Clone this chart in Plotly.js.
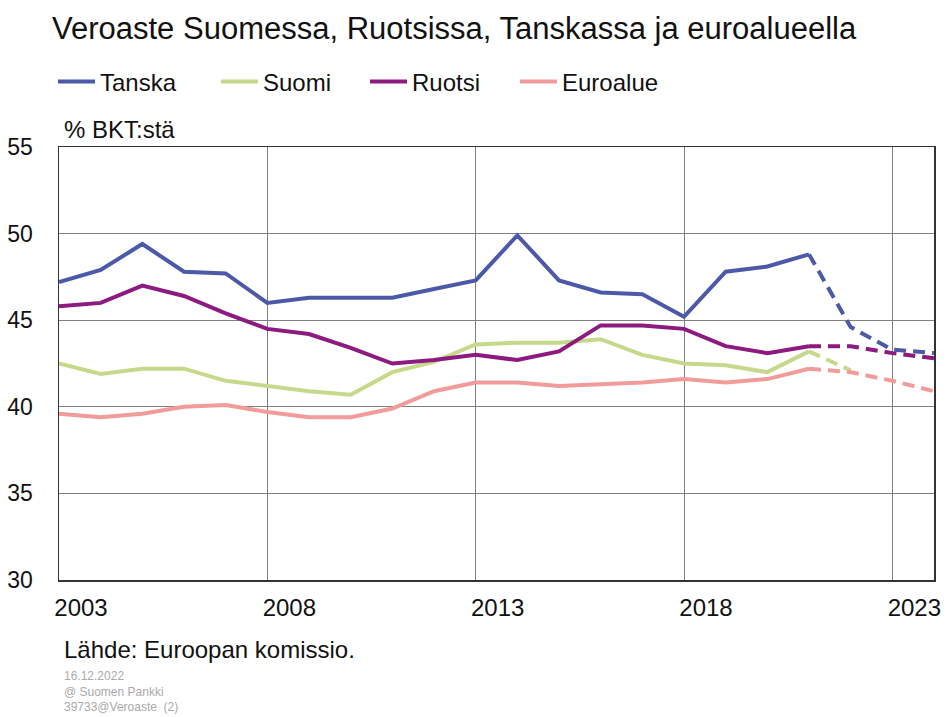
<!DOCTYPE html>
<html><head><meta charset="utf-8">
<script src="https://cdn.plot.ly/plotly-3.0.1.min.js"></script>
<style>html,body{margin:0;padding:0;background:#fff}</style>
</head><body>
<div id="chart" style="width:946px;height:717px"></div>
<script>
const years = [2003,2004,2005,2006,2007,2008,2009,2010,2011,2012,2013,2014,2015,2016,2017,2018,2019,2020,2021,2022,2023,2024];
const tanska   = [47.2,47.9,49.4,47.8,47.7,46.0,46.3,46.3,46.3,46.8,47.3,49.9,47.3,46.6,46.5,45.2,47.8,48.1,48.8,44.6,43.3,43.1];
const suomi    = [42.5,41.9,42.2,42.2,41.5,41.2,40.9,40.7,42.0,42.6,43.6,43.7,43.7,43.9,43.0,42.5,42.4,42.0,43.2,42.1,null,null];
const ruotsi   = [45.8,46.0,47.0,46.4,45.4,44.5,44.2,43.4,42.5,42.7,43.0,42.7,43.2,44.7,44.7,44.5,43.5,43.1,43.5,43.5,43.1,42.8];
const euroalue = [39.6,39.4,39.6,40.0,40.1,39.7,39.4,39.4,39.9,40.9,41.4,41.4,41.2,41.3,41.4,41.6,41.4,41.6,42.2,42.0,41.5,40.9];
const seriesNames = ['Tanska','Suomi','Ruotsi','Euroalue'];
const tickYears = [2003,2008,2013,2018,2023];
const tickLabels = ['2003','2008','2013','2018','2023'];
const lastActualYear = 2021;

const colors = ['#4b59a8','#c6d98a','#8c1a7f','#f29b9b'];
const seriesData = [tanska, suomi, ruotsi, euroalue];
const FONT = 'Liberation Sans, Arial, sans-serif';
const legendIds = ['legend','legend2','legend3','legend4'];
const legendX = [53, 216, 365, 515];

const cut = years.indexOf(lastActualYear);
const traces = [];
seriesData.forEach((vals, i) => {
  traces.push({
    x: years.slice(0, cut + 1), y: vals.slice(0, cut + 1),
    type: 'scatter', mode: 'lines', name: seriesNames[i],
    line: {color: colors[i], width: 4}, legend: legendIds[i],
    hoverinfo: 'skip'
  });
  traces.push({
    x: years.slice(cut), y: vals.slice(cut),
    type: 'scatter', mode: 'lines', name: seriesNames[i] + ' ennuste',
    line: {color: colors[i], width: 4, dash: '12px,7px'}, legend: legendIds[i],
    showlegend: false, hoverinfo: 'skip'
  });
});

const layout = {
  width: 946, height: 717,
  paper_bgcolor: '#fff', plot_bgcolor: '#fff',
  margin: {l: 59, r: 12, t: 147, b: 137, pad: 0},
  font: {family: FONT, color: '#111'},
  title: {text: 'Veroaste Suomessa, Ruotsissa, Tanskassa ja euroalueella',
          x: 52/946, xanchor: 'left', xref: 'container',
          y: 1 - 28/717, yanchor: 'middle', yref: 'container',
          font: {family: FONT, size: 31, color: '#111'}},
  showlegend: true,
  xaxis: {type: 'linear', range: [2003, 2024], tickvals: tickYears, ticktext: tickLabels,
          showgrid: true, gridcolor: '#808080', gridwidth: 1,
          showline: true, linecolor: '#333', linewidth: 1.5, mirror: true,
          ticks: '', zeroline: false, ticklabelshift: 22, ticklabelstandoff: 6,
          tickfont: {family: FONT, size: 24, color: '#111'}, fixedrange: true},
  yaxis: {range: [30, 55], tickvals: [30,35,40,45,50,55],
          showgrid: true, gridcolor: '#808080', gridwidth: 1,
          showline: true, linecolor: '#333', linewidth: 1.5, mirror: true,
          ticks: '', zeroline: false, ticklabelstandoff: 20,
          tickfont: {family: FONT, size: 23, color: '#111'}, fixedrange: true},
  annotations: [
    {text: '% BKT:stä', xref: 'paper', yref: 'paper', x: 3/875, y: 1, xanchor: 'left', yanchor: 'bottom',
     yshift: 2, showarrow: false, font: {family: FONT, size: 24, color: '#111'}},
    {text: 'Lähde: Euroopan komissio.', xref: 'paper', yref: 'paper', x: 3/875, y: (580-649)/433,
     xanchor: 'left', yanchor: 'middle', showarrow: false, font: {family: FONT, size: 24, color: '#111'}},
    {text: '16.12.2022<br>@ Suomen Pankki<br>39733@Veroaste  (2)', xref: 'paper', yref: 'paper',
     x: 3/875, y: (580-691)/433, xanchor: 'left', yanchor: 'middle', align: 'left', showarrow: false,
     font: {family: FONT, size: 12, color: '#aaa'}}
  ]
};
legendIds.forEach((id, i) => {
  layout[id] = {orientation: 'h', xref: 'container', yref: 'container',
    x: legendX[i]/946, xanchor: 'left', y: 1 - 82/717, yanchor: 'middle',
    font: {family: FONT, size: 24, color: '#111'}, itemwidth: 37,
    bgcolor: 'rgba(0,0,0,0)'};
});

Plotly.newPlot('chart', traces, layout, {displayModeBar: false, staticPlot: true});
</script>
</body></html>
